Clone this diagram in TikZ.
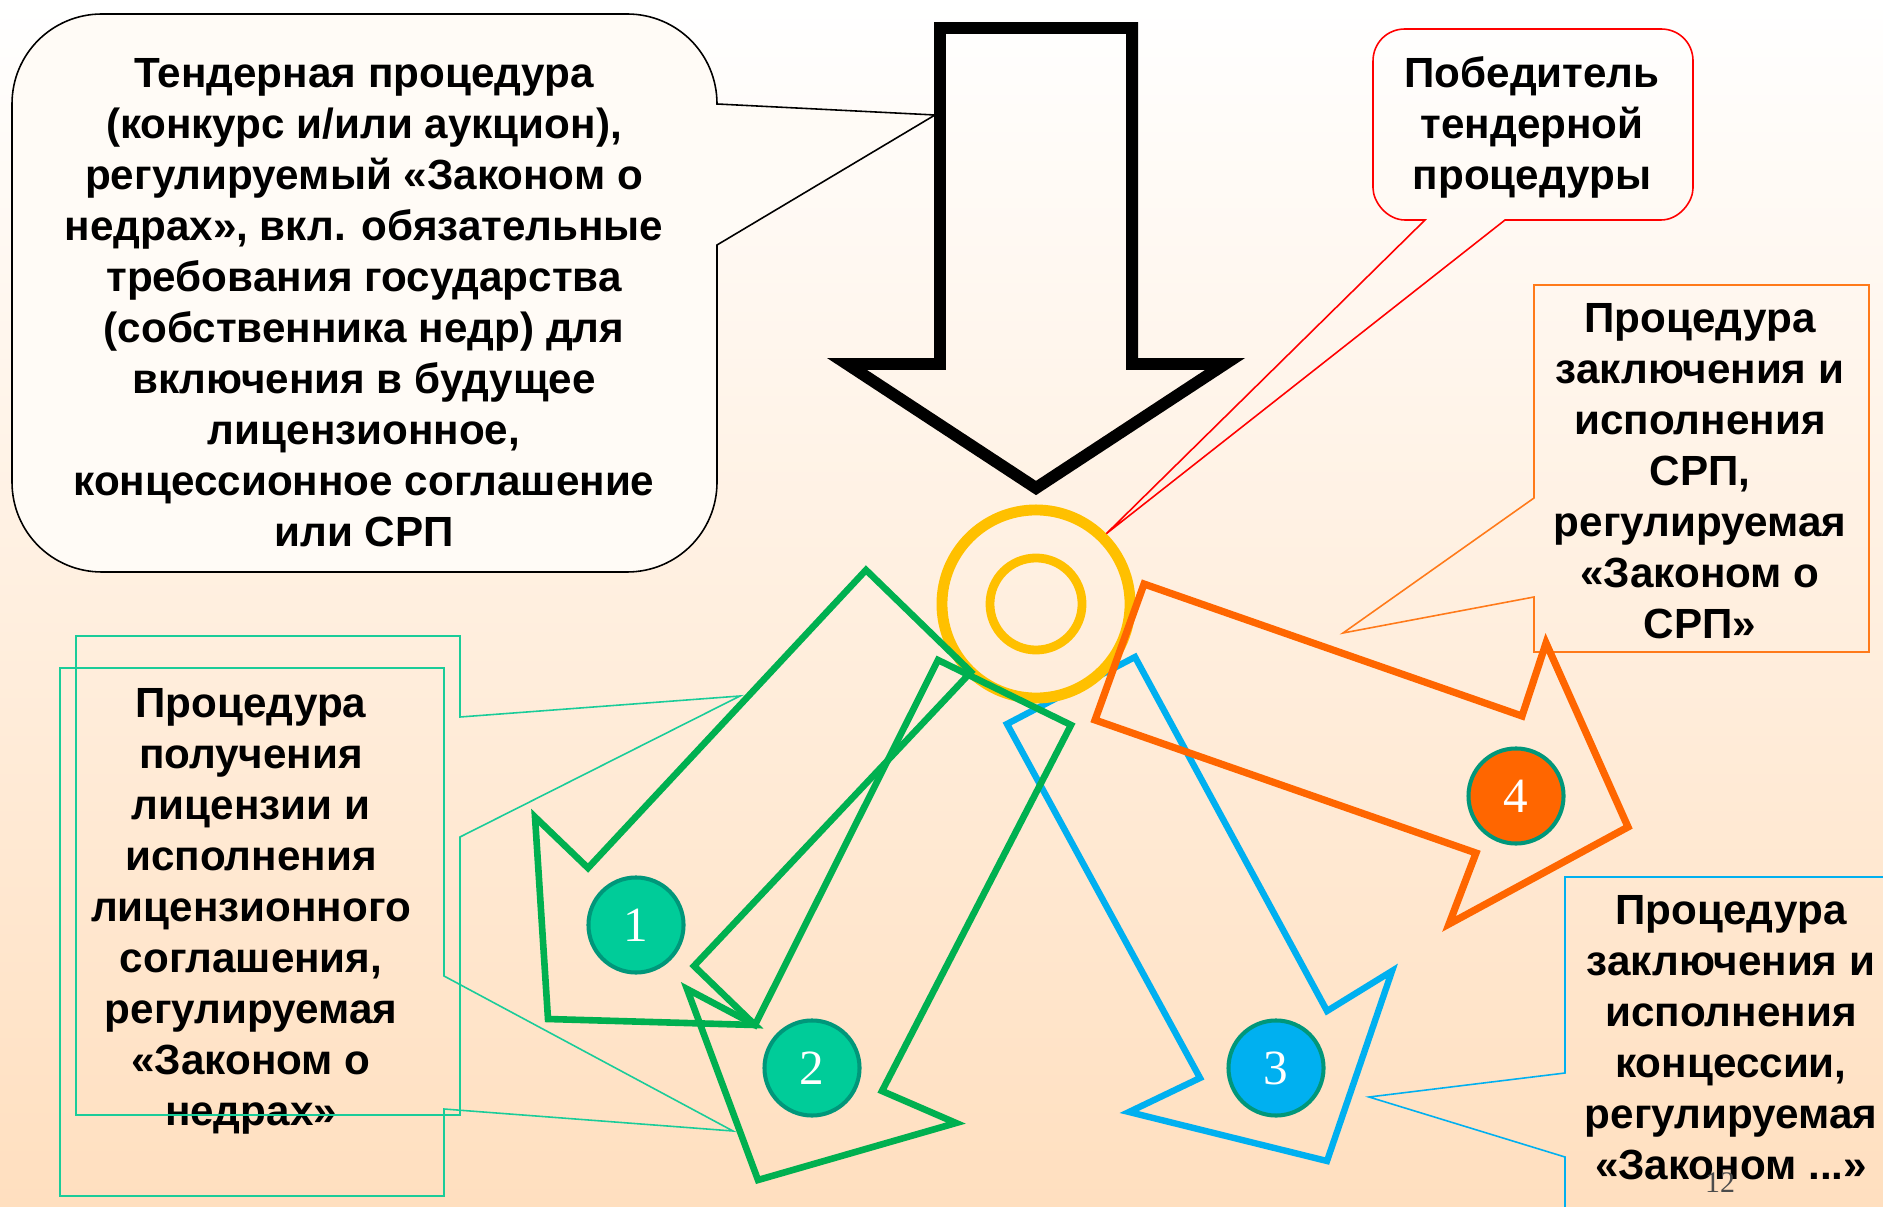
\documentclass[tikz,border=0pt]{standalone}
\usepackage{fontspec}
\setmainfont{Liberation Sans}
\newfontfamily\numfont{Liberation Serif}
\definecolor{bgbot}{HTML}{FFDFBF}
\definecolor{bubblefill}{HTML}{FFFBF6}
\definecolor{winnercol}{HTML}{FF0000}
\definecolor{ringcol}{HTML}{FFC000}
\definecolor{licencecol}{HTML}{00B050}
\definecolor{licboxcol}{HTML}{1ACC99}
\definecolor{concesscol}{HTML}{00B0F0}
\definecolor{psacol}{HTML}{FF6600}
\definecolor{psaboxcol}{HTML}{FF7A1A}
\definecolor{numfill}{HTML}{00CC99}
\definecolor{numedge}{HTML}{00977A}

\begin{document}
\begin{tikzpicture}[x=0.01cm, y=-0.01cm, line join=miter,
  txt/.style={align=center, font=\fontsize{12}{14.5}\selectfont\bfseries, inner sep=0pt},
  callout/.style={line width=0.45pt},
  num/.style={circle, draw=numedge, line width=1.15pt, minimum size=0.95cm, inner sep=0pt, text=white, font=\numfont\fontsize{14}{14}\selectfont}]
\useasboundingbox (0,0) rectangle (1883,1207);
\clip (0,0) rectangle (1883,1207);
\shade[top color=white, bottom color=bgbot] (0,0) rectangle (1883,1207);

\coordinate (tenderTip) at (935,115);
\coordinate (licTipA) at (740,696);
\coordinate (licTipB) at (733,1131);
\coordinate (psaTip) at (1343,633);
\coordinate (concTip) at (1369,1097);

\draw[callout, fill=bubblefill] (717,245) -- (tenderTip) -- (717,104) .. controls (717,54) and (677,14) .. (627,14) -- (102,14) .. controls (52,14) and (12,54) .. (12,104) -- (12,482) .. controls (12,532) and (52,572) .. (102,572) -- (627,572) .. controls (677,572) and (717,532) .. (717,482) -- cycle;
\node[txt] (tender) at (364,303) {Тендерная процедура\\(конкурс и/или аукцион),\\регулируемый «Законом о\\недрах», вкл. обязательные\\требования государства\\(собственника недр) для\\включения в будущее\\лицензионное,\\концессионное соглашение\\или СРП};

\draw[line width=3.4pt] (940,28) -- (1132,28) -- (1132,364) -- (1225,364) -- (1036,488) -- (847,364) -- (940,364) -- cycle;

\draw[callout, psaboxcol] (1534,285) -- (1869,285) -- (1869,652) -- (1534,652) -- (1534,597) -- (psaTip) -- (1534,498) -- cycle;
\node[txt] (psa) at (1700,471) {Процедура\\заключения и\\исполнения\\СРП,\\регулируемая\\«Законом о\\СРП»};

\draw[callout, concesscol] (1565,877) -- (1900,877) -- (1900,1230) -- (1565,1230) -- (1565,1157) -- (concTip) -- (1565,1073) -- cycle;
\node[txt] (concession) at (1731,1038) {Процедура\\заключения и\\исполнения\\концессии,\\регулируемая\\«Законом ...»};

\draw[callout, licboxcol] (60,668) -- (444,668) -- (444,976) -- (licTipB) -- (444,1109) -- (444,1196) -- (60,1196) -- cycle;
\node[txt] (licence) at (251,911) {Процедура\\получения\\лицензии и\\исполнения\\лицензионного\\соглашения,\\регулируемая\\«Законом о\\недрах»};
\draw[callout, licboxcol] (76,636) -- (460,636) -- (460,717) -- (licTipA) -- (460,837) -- (460,1115) -- (76,1115) -- cycle;

\draw[concesscol, line width=1.82pt] (1007,724) -- (1135,657) -- (1327,1011) -- (1392,971) -- (1327,1161) -- (1129,1112) -- (1200,1078) -- cycle;

\node[circle, draw=ringcol, line width=3.1pt, minimum size=1.88cm, inner sep=0pt] (ring) at (1036,604) {};
\node[circle, draw=ringcol, line width=2.5pt, minimum size=0.92cm, inner sep=0pt] (core) at (ring.center) {};

\draw[callout, winnercol] (1425,220) -- (ring.45) -- (1505,220) -- (1661,220) .. controls (1679,220) and (1693,202) .. (1693,188) -- (1693,61) .. controls (1693,43) and (1679,29) .. (1661,29) -- (1405,29) .. controls (1387,29) and (1373,43) .. (1373,61) -- (1373,188) .. controls (1373,202) and (1387,220) .. (1405,220) -- cycle;
\node[txt] (winner) at (1532,127) {Победитель\\тендерной\\процедуры};

\draw[licencecol, line width=1.88pt] (866,570) -- (971,672) -- (694,966) -- (755,1025) -- (548,1019) -- (535,817) -- (588,868) -- cycle;
\draw[licencecol, line width=1.88pt] (938,660) -- (1071,725) -- (882,1091) -- (956,1123) -- (758,1180) -- (687,989) -- (755,1025) -- cycle;

\draw[psacol, line width=2.05pt] (1095,720) -- (1144,584) -- (1522,716) -- (1546,643) -- (1628,827) -- (1449,924) -- (1476,853) -- cycle;

\node[num, fill=numfill] (n1) at (636,925) {1};
\node[num, fill=numfill] (n2) at (812,1068) {2};
\node[num, fill=concesscol] (n3) at (1276,1068) {3};
\node[num, fill=psacol] (n4) at (1516,796) {4};

\node[text=black!70, font=\numfont\fontsize{8.5}{8.5}\selectfont] (page) at (1720,1183) {12};
\end{tikzpicture}
\end{document}
